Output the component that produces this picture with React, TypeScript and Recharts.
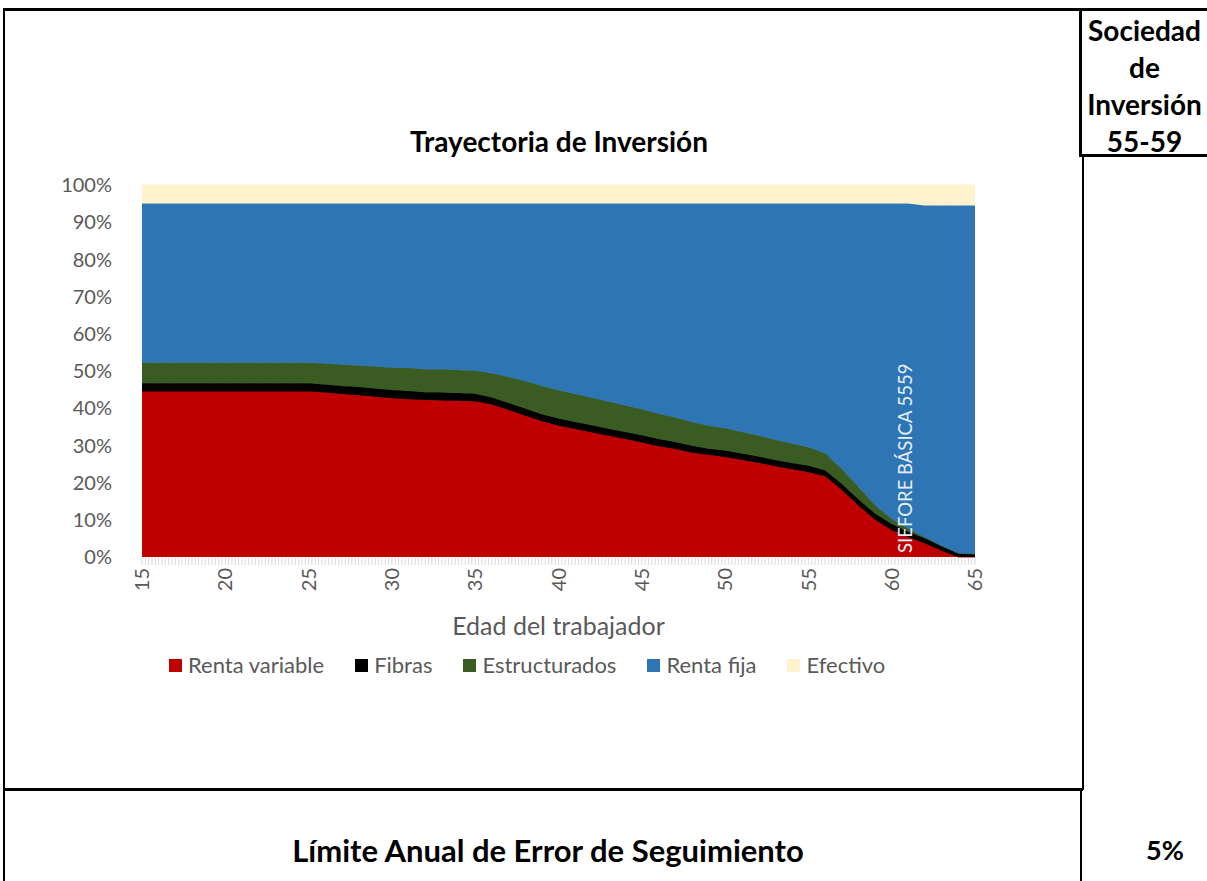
import { AreaChart, Area, XAxis, YAxis, Legend, ReferenceLine } from "recharts";

// ages on the x axis (one point per year)
const ages = [
  15, 16, 17, 18, 19, 20, 21, 22, 23, 24, 25, 26, 27, 28, 29, 30, 31, 32, 33, 34,
  35, 36, 37, 38, 39, 40, 41, 42, 43, 44, 45, 46, 47, 48, 49, 50, 51, 52, 53, 54,
  55, 56, 57, 58, 59, 60, 61, 62, 63, 64, 65,
];

// % of the portfolio
const rentaVariable = [
  44.5, 44.5, 44.5, 44.5, 44.5, 44.5, 44.5, 44.5, 44.5, 44.5, 44.5, 44.2, 43.8, 43.5, 43.1, 42.7, 42.4, 42.2, 42.1, 42.0,
  41.8, 41.0, 39.5, 38.0, 36.5, 35.3, 34.4, 33.5, 32.6, 31.7, 30.8, 29.8, 29.0, 28.0, 27.4, 26.9, 26.1, 25.3, 24.4, 23.6,
  22.8, 21.7, 18.0, 13.8, 10.0, 7.2, 5.3, 3.6, 1.6, 0, 0,
];
const fibras = [
  2.2, 2.2, 2.2, 2.2, 2.2, 2.2, 2.2, 2.2, 2.2, 2.2, 2.2, 2.2, 2.2, 2.2, 2.2, 2.2, 2.2, 2.1, 2.1, 2.1,
  2.1, 1.9, 1.9, 1.9, 1.9, 1.9, 1.9, 1.9, 1.9, 1.9, 1.9, 1.9, 1.9, 1.9, 1.7, 1.7, 1.7, 1.7, 1.7, 1.7,
  1.7, 1.6, 1.7, 1.7, 1.7, 1.7, 1.5, 1.4, 1.3, 1.0, 0.8,
];
const estructurados = [
  5.5, 5.5, 5.5, 5.5, 5.5, 5.5, 5.5, 5.5, 5.5, 5.5, 5.5, 5.6, 5.7, 5.8, 5.9, 6.0, 6.2, 6.2, 6.2, 6.2,
  6.2, 6.5, 7.0, 7.4, 7.6, 7.6, 7.5, 7.4, 7.3, 7.1, 7.0, 6.8, 6.6, 6.4, 6.2, 6.0, 5.8, 5.6, 5.4, 5.2,
  5.0, 4.6, 4.0, 3.4, 2.2, 1.3, 0.7, 0.3, 0.1, 0, 0,
];
const rentaFija = [
  42.8, 42.8, 42.8, 42.8, 42.8, 42.8, 42.8, 42.8, 42.8, 42.8, 42.8, 43.0, 43.3, 43.5, 43.8, 44.1, 44.2, 44.5, 44.6, 44.7,
  44.9, 45.6, 46.6, 47.7, 49.0, 50.2, 51.2, 52.2, 53.2, 54.3, 55.3, 56.5, 57.5, 58.7, 59.7, 60.4, 61.4, 62.4, 63.5, 64.5,
  65.5, 67.1, 71.3, 76.1, 81.1, 84.8, 87.5, 89.2, 91.5, 93.5, 93.7,
];
const efectivo = [
  5, 5, 5, 5, 5, 5, 5, 5, 5, 5, 5, 5, 5, 5, 5, 5, 5, 5, 5, 5,
  5, 5, 5, 5, 5, 5, 5, 5, 5, 5, 5, 5, 5, 5, 5, 5, 5, 5, 5, 5,
  5, 5, 5, 5, 5, 5, 5, 5.5, 5.5, 5.5, 5.5,
];

const ageLabels = [15, 20, 25, 30, 35, 40, 45, 50, 55, 60, 65];
const yTicks = [0, 10, 20, 30, 40, 50, 60, 70, 80, 90, 100];
const annotationAge = 60.8;
const annotationText = "SIEFORE BÁSICA 5559";

const series = [
  { key: "rentaVariable", name: "Renta variable", color: "#C00000" },
  { key: "fibras", name: "Fibras", color: "#000000" },
  { key: "estructurados", name: "Estructurados", color: "#3A5C22" },
  { key: "rentaFija", name: "Renta fija", color: "#2E75B6" },
  { key: "efectivo", name: "Efectivo", color: "#FFF2CC" },
];

const data = ages.map((age, i) => ({
  age,
  rentaVariable: rentaVariable[i],
  fibras: fibras[i],
  estructurados: estructurados[i],
  rentaFija: rentaFija[i],
  efectivo: efectivo[i],
}));

// small light tick marks along the axis, five per year
const minorTicks = Array.from({ length: 251 }, (_, i) => 15 + i / 5);

const grey = "#595959";

function AgeTick(props: any) {
  const { x, y, payload } = props;
  const v = payload.value;
  const r = Math.round(v * 100) / 100;
  const show = ageLabels.includes(r);
  const ty = y + 11;
  return (
    <g>
      <line x1={x} x2={x} y1={y + 1} y2={y + 8} stroke="#D9D9D9" strokeWidth={1} />
      {show && (
        <text x={x} y={ty} transform={`rotate(-90 ${x} ${ty})`} textAnchor="end" dy="0.36em" fill={grey} fontSize={20}>
          {r}
        </text>
      )}
    </g>
  );
}

function LegendBox() {
  return (
    <div style={{ display: "flex", alignItems: "center", fontSize: 22, lineHeight: "26px", color: grey, whiteSpace: "nowrap" }}>
      {series.map((s) => (
        <div key={s.key} style={{ display: "flex", alignItems: "center", marginRight: 31 }}>
          <span style={{ display: "inline-block", width: 13, height: 13, background: s.color, marginRight: 6 }} />
          <span>{s.name}</span>
        </div>
      ))}
    </div>
  );
}

function line(left: number, top: number, width: number, height: number) {
  return <div style={{ position: "absolute", left, top, width, height, background: "#000" }} />;
}

const cellText = { position: "absolute" as const, fontWeight: 700, color: "#000", textAlign: "center" as const };

export default function App() {
  return (
    <div style={{ position: "absolute", left: 0, top: 0, width: 1207, height: 881, background: "#fff", fontFamily: "Lato, sans-serif", overflow: "hidden" }}>
      {line(3, 8, 1204, 3)}
      {line(3, 8, 2, 873)}
      {line(1079, 8, 3, 149)}
      {line(1079, 154, 128, 3)}
      {line(1082, 157, 1.5, 633)}
      {line(3, 788, 1080, 3)}
      {line(1080, 788, 2, 93)}

      <div style={{ ...cellText, left: 0, top: 124, width: 1118, fontSize: 28, lineHeight: "34px" }}>Trayectoria de Inversión</div>
      <div style={{ ...cellText, left: 1082, top: 12, width: 125, fontSize: 28, lineHeight: "37px" }}>
        Sociedad<br />de<br />Inversión<br />55-59
      </div>
      <div style={{ ...cellText, left: 0, top: 832, width: 1096, fontSize: 31, lineHeight: "36px" }}>Límite Anual de Error de Seguimiento</div>
      <div style={{ ...cellText, left: 1082, top: 833, width: 166, fontSize: 27, lineHeight: "34px" }}>5%</div>

      <div style={{ position: "absolute", left: 0, top: 0 }}>
        <AreaChart width={1080} height={700} data={data} margin={{ top: 185, right: 105, bottom: 83, left: 62 }}>
          <XAxis
            dataKey="age"
            type="number"
            domain={[15, 65]}
            ticks={minorTicks}
            interval={0}
            tick={<AgeTick />}
            tickLine={false}
            axisLine={false}
            tickSize={0}
            tickMargin={0}
            height={60}
            label={{
              content: (p: any) => (
                <text x={p.viewBox.x + p.viewBox.width / 2} y={626} textAnchor="middle" dy="0.35em" fill={grey} fontSize={25}>
                  Edad del trabajador
                </text>
              ),
            }}
          />
          <YAxis
            type="number"
            domain={[0, 100]}
            ticks={yTicks}
            tickFormatter={(v: number) => `${v}%`}
            width={80}
            axisLine={false}
            tickLine={false}
            tickSize={0}
            tickMargin={30}
            tick={{ fill: grey, fontSize: 20 }}
          />
          {series.map((s) => (
            <Area
              key={s.key}
              dataKey={s.key}
              name={s.name}
              stackId="1"
              type="linear"
              fill={s.color}
              fillOpacity={1}
              stroke={s.color}
              strokeWidth={1}
              isAnimationActive={false}
            />
          ))}
          <ReferenceLine
            x={annotationAge}
            stroke="transparent"
            label={(p: any) => {
              const vb = p.viewBox;
              const x = vb.x;
              const y = vb.y + vb.height - 4;
              return (
                <text x={x} y={y} transform={`rotate(-90 ${x} ${y})`} textAnchor="start" dy="0.36em" fill="#E6EEF7" fontSize={18.5}>
                  {annotationText}
                </text>
              );
            }}
          />
          <Legend
            layout="horizontal"
            verticalAlign="middle"
            align="center"
            wrapperStyle={{ top: 652, left: 169, width: "auto", height: "auto" }}
            content={<LegendBox />}
          />
        </AreaChart>
      </div>
    </div>
  );
}
